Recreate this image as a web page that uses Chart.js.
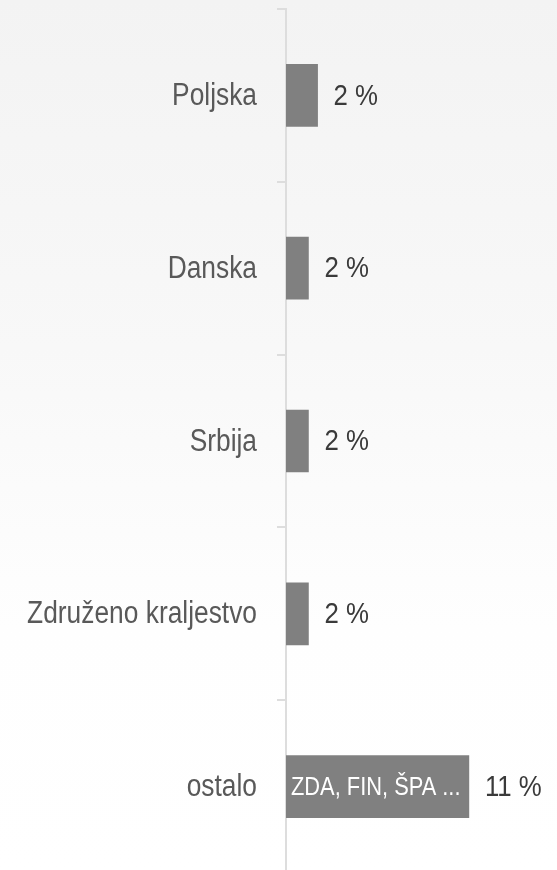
<!DOCTYPE html>
<html>
<head>
<meta charset="utf-8">
<script src="https://cdn.jsdelivr.net/npm/chart.js@4.4.0/dist/chart.umd.min.js"></script>
<style>
  html, body { margin: 0; padding: 0; overflow: hidden; }
  body { width: 557px; height: 870px; background: linear-gradient(#f3f3f3 0%, #f8f8f8 40%, #fefefe 72%, #ffffff 100%); }
  #wrap { position: relative; width: 557px; height: 873px; }
</style>
</head>
<body>
<div id="wrap"><canvas id="myChart"></canvas></div>
<script>
const categories = ['Poljska', 'Danska', 'Srbija', 'Združeno kraljestvo', 'ostalo'];
const values = [1.9, 1.35, 1.35, 1.35, 11];
const valueLabels = ['2 %', '2 %', '2 %', '2 %', '11 %'];
const innerLabels = ['', '', '', '', 'ZDA, FIN, ŠPA ...'];

const FONT = '"Liberation Sans", Arial, sans-serif';

// condensed text: the reference uses a narrow face, so squeeze a normal one
function narrowText(ctx, text, x, y, size, squeeze, color, align) {
    ctx.save();
    ctx.font = size + 'px ' + FONT;
    ctx.fillStyle = color;
    ctx.textAlign = align;
    ctx.textBaseline = 'middle';
    ctx.translate(x, y);
    ctx.scale(squeeze, 1);
    ctx.fillText(text, 0, 0);
    ctx.restore();
}

const barLabels = {
    id: 'barLabels',
    afterDatasetsDraw(chart) {
        const ctx = chart.ctx;
        const meta = chart.getDatasetMeta(0);
        const yScale = chart.scales.y;
        meta.data.forEach((bar, i) => {
            narrowText(ctx, categories[i], yScale.right - 29, bar.y + 1, 31, 0.85, '#595959', 'right');
            narrowText(ctx, valueLabels[i], bar.x + 16, bar.y + 1, 30, 0.86, '#3a3a3a', 'left');
            if (innerLabels[i]) {
                narrowText(ctx, innerLabels[i], bar.base + 5, bar.y + 1, 26, 0.84, '#ffffff', 'left');
            }
        });
    }
};

const ctx = document.getElementById('myChart').getContext('2d');
const myChart = new Chart(ctx, {
    type: 'bar',
    data: {
        labels: categories,
        datasets: [{
            data: values,
            backgroundColor: '#808080',
            borderWidth: 0,
            barThickness: 62
        }]
    },
    options: {
        indexAxis: 'y',
        responsive: true,
        maintainAspectRatio: false,
        animation: false,
        layout: { padding: { top: 9, right: 0, bottom: 0, left: 0 } },
        plugins: {
            legend: { display: false },
            tooltip: { enabled: false }
        },
        scales: {
            x: {
                display: false,
                min: 0,
                max: 16.3
            },
            y: {
                afterFit(scale) { scale.width = 286; },
                grid: {
                    offset: true,
                    drawOnChartArea: false,
                    tickLength: 9,
                    color: '#dddddd',
                    lineWidth: 2
                },
                border: { color: '#dddddd', width: 2 },
                ticks: { display: false }
            }
        }
    },
    plugins: [barLabels]
});
</script>
</body>
</html>
